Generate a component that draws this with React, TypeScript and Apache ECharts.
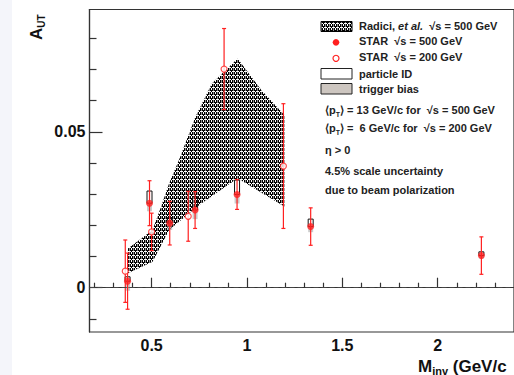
import React, { useEffect, useRef } from 'react';
import * as echarts from 'echarts';

// ---- axis ticks ----
const xTickLabels = [0.5, 1, 1.5, 2];
const xMinorTicks = [0.2, 0.3, 0.4, 0.6, 0.7, 0.8, 0.9, 1.1, 1.2, 1.3, 1.4, 1.6, 1.7, 1.8, 1.9, 2.1, 2.2, 2.3];
const yTickLabels = [0, 0.05];
const yMinorTicks = [-0.01, 0.01, 0.02, 0.03, 0.04, 0.06, 0.07, 0.08];

// ---- STAR sqrt(s) = 500 GeV ----
const star500X = [0.374, 0.489, 0.595, 0.728, 0.948, 1.334, 2.229];
const star500Y = [0.0021, 0.0271, 0.0207, 0.0249, 0.0299, 0.0196, 0.0103];
const star500Err = [0.009, 0.0072, 0.007, 0.0059, 0.0048, 0.006, 0.006];
// particle ID systematic (top of box; bottom = point)
const pidTop = [0.0035, 0.031, 0.0225, 0.0292, 0.0345, 0.022, 0.0115];
// trigger bias systematic (bottom of grey box; top = point)
const trigLow = [-0.001, 0.0245, 0.0185, 0.022, 0.027, 0.0178, 0.0093];

// ---- STAR sqrt(s) = 200 GeV ----
const star200X = [0.362, 0.5, 0.692, 0.88, 1.191];
const star200Y = [0.0053, 0.0179, 0.0229, 0.0701, 0.039];
const star200Err = [0.01, 0.006, 0.008, 0.013, 0.02];

// ---- Radici et al. band ----
const bandUpperX = [0.376, 0.505, 0.55, 0.592, 0.644, 0.73, 0.816, 0.951, 1.075, 1.196];
const bandUpperY = [0.0126, 0.0185, 0.026, 0.0335, 0.041, 0.0548, 0.0655, 0.0735, 0.0634, 0.0554];
const bandLowerX = [0.376, 0.505, 0.592, 0.68, 0.75, 0.951, 1.196];
const bandLowerY = [0.0046, 0.0083, 0.0185, 0.023, 0.0265, 0.0351, 0.026];

const RED = '#ff2020';
const FONT = '"Liberation Sans", Arial, Helvetica, sans-serif';

function makeHatch(): HTMLCanvasElement {
  const c = document.createElement('canvas');
  c.width = 4;
  c.height = 4;
  const g = c.getContext('2d')!;
  g.fillStyle = '#000';
  g.fillRect(0, 0, 4, 4);
  g.fillStyle = '#8a8a8a';
  g.fillRect(1, 0, 1, 3);
  g.fillStyle = '#ffffff';
  g.fillRect(3, 0, 1, 2);
  g.fillRect(0, 3, 3, 1);
  return c;
}

export default function App() {
  const ref = useRef<HTMLDivElement>(null);

  useEffect(() => {
    document.body.style.margin = '0';
    const chart = echarts.init(ref.current!, null, { renderer: 'svg' });
    const hatch = { image: makeHatch(), repeat: 'repeat', imageWidth: 4, imageHeight: 4 } as any;

    const legendText = (x: number, y: number, text: string, extra: any = {}) => ({
      type: 'text',
      x,
      y,
      z: 100,
      style: {
        text,
        fontFamily: FONT,
        fontWeight: 'bold',
        fontSize: 11,
        fill: '#222',
        verticalAlign: 'middle',
        align: 'left',
        ...extra,
      },
    });

    const ptRich = {
      s: { fontSize: 7, fontWeight: 'bold', fontFamily: FONT, lineHeight: 8, verticalAlign: 'bottom', fill: '#222' },
    };

    const option: any = {
      animation: false,
      backgroundColor: '#fff',
      grid: {
        left: 89.5,
        top: 9.5,
        bottom: 43,
        right: -4.8,
        show: true,
        borderColor: '#333',
        borderWidth: 1.2,
        backgroundColor: 'transparent',
      },
      xAxis: [
        {
          type: 'value',
          min: 0.1744,
          max: 2.4,
          position: 'bottom',
          axisLine: { show: true, lineStyle: { color: '#333', width: 1.2 } },
          splitLine: { show: false },
          axisTick: { show: true, inside: true, length: 10, customValues: xTickLabels, lineStyle: { color: '#333', width: 1.2 } },
          axisLabel: {
            customValues: xTickLabels,
            fontFamily: FONT,
            fontWeight: 'bold',
            fontSize: 16,
            color: '#111',
            margin: 5,
            formatter: (v: number) => String(v),
          },
        },
        {
          type: 'value',
          min: 0.1744,
          max: 2.4,
          position: 'bottom',
          axisLine: { show: false },
          splitLine: { show: false },
          axisTick: { show: true, inside: true, length: 5, customValues: xMinorTicks, lineStyle: { color: '#333', width: 1.2 } },
          axisLabel: { show: false },
        },
      ],
      yAxis: [
        {
          type: 'value',
          min: -0.0142,
          max: 0.0892,
          position: 'left',
          axisLine: { show: true, lineStyle: { color: '#333', width: 1.2 } },
          splitLine: { show: false },
          axisTick: { show: true, inside: true, length: 13, customValues: yTickLabels, lineStyle: { color: '#333', width: 1.2 } },
          axisLabel: {
            customValues: yTickLabels,
            fontFamily: FONT,
            fontWeight: 'bold',
            fontSize: 16,
            color: '#111',
            margin: 4,
            formatter: (v: number) => (v === 0 ? '0' : String(v)),
          },
        },
        {
          type: 'value',
          min: -0.0142,
          max: 0.0892,
          position: 'left',
          axisLine: { show: false },
          splitLine: { show: false },
          axisTick: { show: true, inside: true, length: 7, customValues: yMinorTicks, lineStyle: { color: '#333', width: 1.2 } },
          axisLabel: { show: false },
        },
      ],
      series: [
        {
          name: 'Radici',
          type: 'custom',
          z: 1,
          data: [[bandUpperX[0], bandUpperY[0]]],
          renderItem: (_p: any, api: any) => {
            const pts: number[][] = [];
            for (let i = 0; i < bandUpperX.length; i++) pts.push(api.coord([bandUpperX[i], bandUpperY[i]]));
            for (let i = bandLowerX.length - 1; i >= 0; i--) pts.push(api.coord([bandLowerX[i], bandLowerY[i]]));
            return { type: 'polygon', shape: { points: pts }, style: { fill: hatch, stroke: 'none' } };
          },
          markLine: {
            silent: true,
            symbol: 'none',
            label: { show: false },
            lineStyle: { color: '#444', width: 1, type: [5, 3] },
            data: [{ yAxis: 0 }],
          },
        },
        {
          name: 'trigger bias',
          type: 'custom',
          z: 2,
          data: star500X.map((x, i) => [x, star500Y[i], trigLow[i]]),
          renderItem: (_p: any, api: any) => {
            const a = api.coord([api.value(0), api.value(1)]);
            const b = api.coord([api.value(0), api.value(2)]);
            return { type: 'rect', shape: { x: a[0] - 2.5, y: a[1], width: 5, height: b[1] - a[1] }, style: { fill: 'rgba(170,170,170,0.6)' } };
          },
        },
        {
          name: 'particle ID',
          type: 'custom',
          z: 3,
          data: star500X.map((x, i) => [x, star500Y[i], pidTop[i]]),
          renderItem: (_p: any, api: any) => {
            const a = api.coord([api.value(0), api.value(2)]);
            const b = api.coord([api.value(0), api.value(1)]);
            return { type: 'rect', shape: { x: a[0] - 2.5, y: a[1], width: 5, height: b[1] - a[1] }, style: { fill: 'none', stroke: '#111', lineWidth: 1 } };
          },
        },
        ...[
          { xs: star500X, ys: star500Y, es: star500Err },
          { xs: star200X, ys: star200Y, es: star200Err },
        ].map((d, k) => ({
          name: 'err' + k,
          type: 'custom',
          z: 4,
          data: d.xs.map((x, i) => [x, d.ys[i], d.es[i]]),
          renderItem: (_p: any, api: any) => {
            const x = api.value(0), y = api.value(1), e = api.value(2);
            const t = api.coord([x, y + e]);
            const b = api.coord([x, y - e]);
            const st = { stroke: RED, lineWidth: 1.2 };
            return {
              type: 'group',
              children: [
                { type: 'line', shape: { x1: t[0], y1: t[1], x2: b[0], y2: b[1] }, style: st },
                { type: 'line', shape: { x1: t[0] - 2, y1: t[1], x2: t[0] + 2, y2: t[1] }, style: st },
                { type: 'line', shape: { x1: b[0] - 2, y1: b[1], x2: b[0] + 2, y2: b[1] }, style: st },
              ],
            };
          },
        })),
        {
          name: 'STAR 500',
          type: 'scatter',
          z: 6,
          symbol: 'circle',
          symbolSize: 7,
          itemStyle: { color: RED },
          data: star500X.map((x, i) => [x, star500Y[i]]),
        },
        {
          name: 'STAR 200',
          type: 'scatter',
          z: 6,
          symbol: 'circle',
          symbolSize: 6,
          itemStyle: { color: '#fff', borderColor: RED, borderWidth: 1.2 },
          data: star200X.map((x, i) => [x, star200Y[i]]),
        },
      ],
      graphic: [
        { type: 'rect', z: -10, shape: { x: 0, y: 0, width: 12, height: 375 }, style: { fill: '#f4f5fa' } },
        // y title
        {
          type: 'text',
          x: 36,
          y: 40,
          rotation: Math.PI / 2,
          z: 100,
          style: {
            text: '{a|A}{s|UT}',
            align: 'left',
            verticalAlign: 'middle',
            rich: {
              a: { fontFamily: FONT, fontWeight: 'bold', fontSize: 17, lineHeight: 20, fill: '#111' },
              s: { fontFamily: FONT, fontWeight: 'bold', fontSize: 10, lineHeight: 10, verticalAlign: 'bottom', fill: '#111' },
            },
          },
        },
        // x title
        {
          type: 'text',
          x: 418,
          y: 366,
          z: 100,
          style: {
            text: '{m|M}{s|inv}{m| (GeV/c}',
            align: 'left',
            verticalAlign: 'middle',
            rich: {
              m: { fontFamily: FONT, fontWeight: 'bold', fontSize: 17, lineHeight: 20, fill: '#111' },
              s: { fontFamily: FONT, fontWeight: 'bold', fontSize: 11, lineHeight: 11, verticalAlign: 'bottom', fill: '#111' },
            },
          },
        },
        // legend
        { type: 'rect', z: 100, shape: { x: 321, y: 21.5, width: 31, height: 10 }, style: { fill: hatch, stroke: '#000', lineWidth: 1 } },
        legendText(359, 25.7, '{n|Radici, }{i|et al.}{n|  √s = 500 GeV}', {
          rich: {
            n: { fontFamily: FONT, fontWeight: 'bold', fontSize: 11, fill: '#222' },
            i: { fontFamily: FONT, fontWeight: 'bold', fontStyle: 'italic', fontSize: 11, fill: '#222' },
          },
        }),
        { type: 'circle', z: 100, shape: { cx: 336, cy: 42.3, r: 3.3 }, style: { fill: RED } },
        legendText(359, 41, 'STAR  √s = 500 GeV'),
        { type: 'circle', z: 100, shape: { cx: 336, cy: 58.3, r: 3 }, style: { fill: '#fff', stroke: RED, lineWidth: 1.2 } },
        legendText(359, 57, 'STAR  √s = 200 GeV'),
        { type: 'rect', z: 100, shape: { x: 321, y: 68.5, width: 31, height: 10.5 }, style: { fill: '#fff', stroke: '#222', lineWidth: 1 } },
        legendText(359, 73.5, 'particle ID'),
        { type: 'rect', z: 100, shape: { x: 321, y: 83.5, width: 31, height: 10.5 }, style: { fill: '#cdc6c0', stroke: '#222', lineWidth: 1 } },
        legendText(359, 88.5, 'trigger bias'),
        legendText(325, 110, '⟨p{s|T}⟩ = 13 GeV/c for  √s = 500 GeV', { lineHeight: 16, rich: ptRich }),
        legendText(325, 128.3, '⟨p{s|T}⟩ =  6 GeV/c for  √s = 200 GeV', { lineHeight: 16, rich: ptRich }),
        legendText(325, 150, 'η > 0'),
        legendText(325, 171, '4.5% scale uncertainty'),
        legendText(325, 190, 'due to beam polarization'),
      ],
    };

    chart.setOption(option);
    return () => chart.dispose();
  }, []);

  return <div ref={ref} style={{ width: 514, height: 375 }} />;
}
